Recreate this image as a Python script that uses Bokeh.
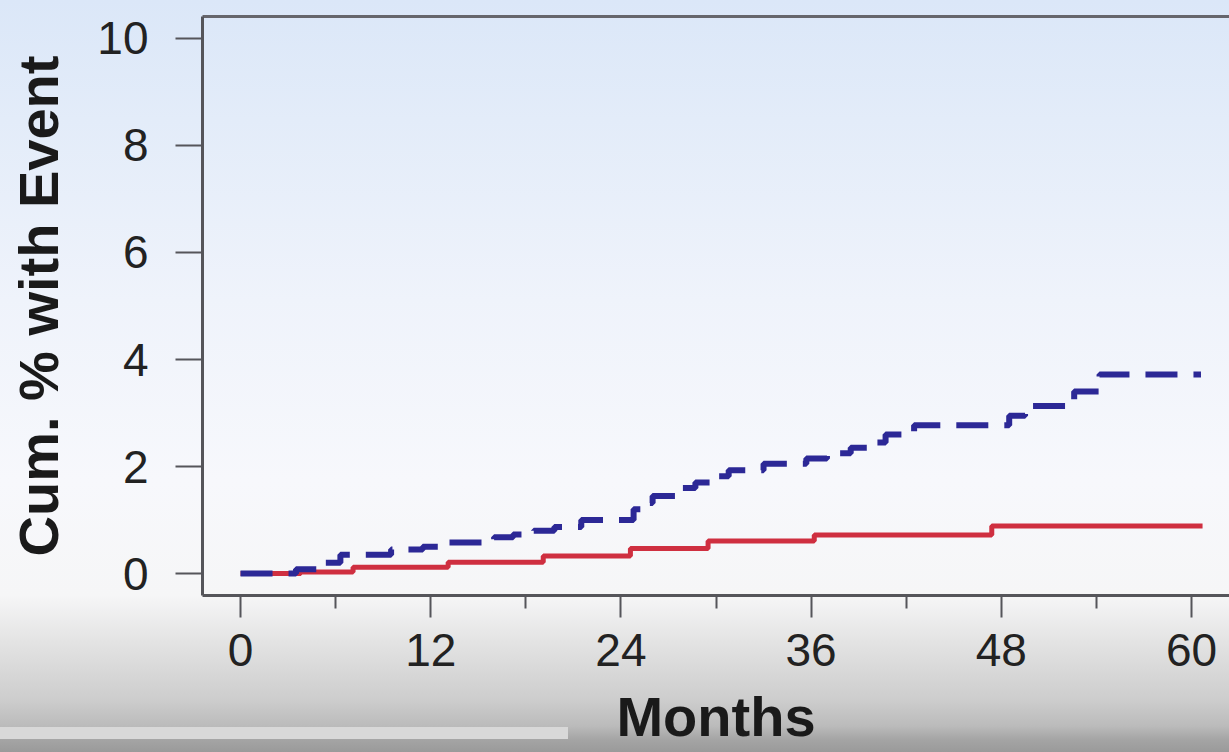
from bokeh.plotting import figure
from bokeh.models import LinearAxis, FixedTicker, Range1d
from bokeh.embed import file_html
from bokeh.resources import INLINE

# Cumulative percentage of patients with an event, by months of follow-up
red_months = [0, 3.8, 7.1, 13.1, 19.1, 24.6, 29.5, 36.2, 47.4, 60.7]
red_pct = [0, 0.03, 0.12, 0.21, 0.33, 0.47, 0.61, 0.72, 0.89, 0.89]

blue_months = [0, 3.5, 5.0, 6.3, 9.5, 11.5, 12.8, 16.0, 17.2, 18.5, 19.8, 21.5,
               24.8, 25.4, 26.0, 27.5, 28.7, 29.8, 30.8, 33.0, 35.7, 37.0, 38.5,
               39.7, 40.7, 42.5, 48.5, 49.5, 52.6, 54.2, 60.6]
blue_pct = [0, 0.08, 0.2, 0.35, 0.45, 0.5, 0.58, 0.68, 0.73, 0.8, 0.87, 1.0,
            1.2, 1.32, 1.45, 1.6, 1.7, 1.82, 1.93, 2.05, 2.15, 2.25, 2.35,
            2.45, 2.6, 2.77, 2.95, 3.13, 3.4, 3.72, 3.72]

x_ticks = [0, 12, 24, 36, 48, 60]
x_minor_ticks = [6, 18, 30, 42, 54]
y_ticks = [0, 2, 4, 6, 8, 10]

FONT = "Liberation Sans"
AXIS_COLOR = "#55555a"
TEXT_COLOR = "#222222"

p = figure(
    width=1229, height=752,
    x_range=Range1d(-2.4, 62.4), y_range=Range1d(-0.41, 10.41),
    output_backend="svg", toolbar_location=None,
    min_border_left=202, min_border_right=0,
    min_border_top=16, min_border_bottom=157,
    background_fill_color=None, border_fill_color=None,
    outline_line_color=None,
)
p.styles = {
    "background": (
        "linear-gradient(to right, #d8d8d8, #d8d8d8) 0 727px / 568px 12px no-repeat, "
        "linear-gradient(to bottom, #dbe7f8 0px, #e3ecf9 120px, #eff3fb 300px, "
        "#f7f8fc 480px, #f6f6f7 595px, #e4e4e4 640px, #cdcdcd 700px, "
        "#bbbbbb 726px, #a4a4a4 740px, #9a9a9a 752px)"
    )
}
p.grid.visible = False

# bottom axis: months
xa = p.xaxis[0]
xa.ticker = FixedTicker(ticks=x_ticks, minor_ticks=x_minor_ticks)
xa.axis_label = "Months"
for ax in (xa, p.yaxis[0]):
    ax.axis_line_color = AXIS_COLOR
    ax.axis_line_width = 3
    ax.major_tick_line_color = AXIS_COLOR
    ax.major_tick_line_width = 2
    ax.minor_tick_line_color = AXIS_COLOR
    ax.minor_tick_line_width = 2
    ax.major_tick_in = 0
    ax.minor_tick_in = 0
    ax.major_label_text_font = FONT
    ax.major_label_text_font_size = "46px"
    ax.major_label_text_color = TEXT_COLOR
    ax.axis_label_text_font = FONT
    ax.axis_label_text_font_style = "bold"
    ax.axis_label_text_color = "#1a1a1a"

xa.major_tick_out = 22
xa.minor_tick_out = 13
xa.major_label_standoff = 16
xa.axis_label_text_font_size = "56px"
xa.axis_label_standoff = 16

ya = p.yaxis[0]
ya.ticker = FixedTicker(ticks=y_ticks, minor_ticks=[])
ya.axis_label = "Cum. % with Event"
ya.major_tick_out = 27
ya.minor_tick_out = 0
ya.major_label_standoff = 27
ya.axis_label_text_font_size = "56px"
ya.axis_label_standoff = 24

# top border of the plotting area
top = LinearAxis(ticker=FixedTicker(ticks=[]), axis_line_color="#66666c",
                 axis_line_width=3, major_tick_out=0, minor_tick_out=0,
                 major_label_text_font_size="0px")
p.add_layout(top, "above")

p.step(red_months, red_pct, mode="after", line_color="#cf2f40", line_width=5)
p.step(blue_months, blue_pct, mode="after", line_color="#2c2896", line_width=6,
       line_dash="32 16")

open("out.html", "w").write(file_html(p, INLINE))
